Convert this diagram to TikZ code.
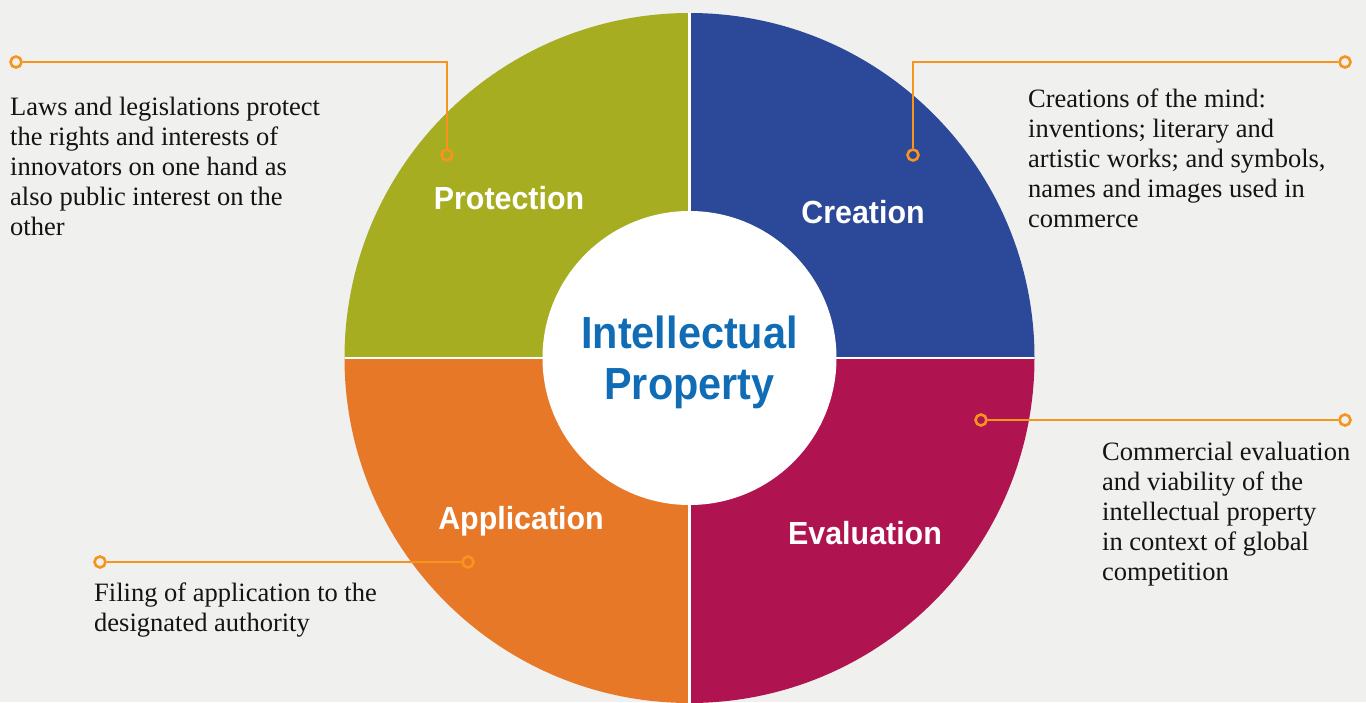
\documentclass[tikz,border=0pt]{standalone}
\usepackage{fontspec}
\setmainfont{Liberation Serif}
\newfontfamily\labelfont[FakeStretch=0.95]{Liberation Sans}
\newfontfamily\titlefont[FakeStretch=0.92]{Liberation Sans}
\definecolor{bgc}{HTML}{F0F0EF}
\definecolor{olivec}{HTML}{A6AD21}
\definecolor{bluec}{HTML}{2C4898}
\definecolor{magc}{HTML}{B01450}
\definecolor{orc}{HTML}{E77828}
\definecolor{connc}{HTML}{F7941D}
\definecolor{titlec}{HTML}{106CB4}
\begin{document}
\begin{tikzpicture}[x=1pt,y=-1pt,
  qlabel/.style={text=white, font=\labelfont\bfseries\fontsize{32}{36}\selectfont, inner sep=0},
  desc/.style={anchor=north west, align=left, inner sep=0, text=black!92, font=\fontsize{26.5}{30}\selectfont},
  dot/.style={circle, draw=connc, line width=2.6pt, minimum size=11pt, inner sep=0},
  conn/.style={draw=connc, line width=2.8pt},
  sep/.style={draw=white, line width=2.5pt}]
\useasboundingbox (0,0) rectangle (1366,702);
\clip (0,0) rectangle (1366,702);
\fill[bgc] (0,0) rectangle (1366,702);
\coordinate (O) at (689.5,358);
\begin{scope}
  \clip (O) circle[radius=345pt];
  \fill[olivec] (O) rectangle ++(-350,-350);
  \fill[bluec] (O) rectangle ++(350,-350);
  \fill[magc] (O) rectangle ++(350,350);
  \fill[orc] (O) rectangle ++(-350,350);
  \coordinate (L) at (339.5,358);
  \coordinate (R) at (1039.5,358);
  \coordinate (T) at (689.5,8);
  \coordinate (B) at (689.5,708);
  \draw[sep] (L) -- (R);
  \draw[sep] (T) -- (B);
\end{scope}
\node[circle, fill=white, minimum size=294pt, inner sep=0] (center) at (O) {};
\node[align=center, text=titlec, inner sep=0, font=\titlefont\bfseries\fontsize{45}{51}\selectfont] (title) at (689.5,362) {Intellectual\\Property};

\node[qlabel] (prot) at (509,198) {Protection};
\node[qlabel] (crea) at (863,212) {Creation};
\node[qlabel] (appl) at (521,521) {Application};
\node[qlabel] (eval) at (865,533) {Evaluation};

% connectors
\node[dot] (p1) at (16,62) {};
\node[dot] (p2) at (447,155) {};
\draw[conn] (p1) -| (p2);
\node[dot] (c1) at (1345,62) {};
\node[dot] (c2) at (913,155) {};
\draw[conn] (c1) -| (c2);
\node[dot] (e1) at (981,420) {};
\node[dot] (e2) at (1345,420) {};
\draw[conn] (e1) -- (e2);
\node[dot] (a1) at (100,562) {};
\node[dot] (a2) at (468,562) {};
\draw[conn] (a1) -- (a2);

\node[desc] (ptext) at (10,97) {Laws and legislations protect\\the rights and interests of\\innovators on one hand as\\also public interest on the\\other};
\node[desc] (ctext) at (1028,89) {Creations of the mind:\\inventions; literary and\\artistic works; and symbols,\\names and images used in\\commerce};
\node[desc] (etext) at (1102,442) {Commercial evaluation\\and viability of the\\intellectual property\\in context of global\\competition};
\node[desc] (atext) at (94,583) {Filing of application to the\\designated authority};
\end{tikzpicture}
\end{document}
